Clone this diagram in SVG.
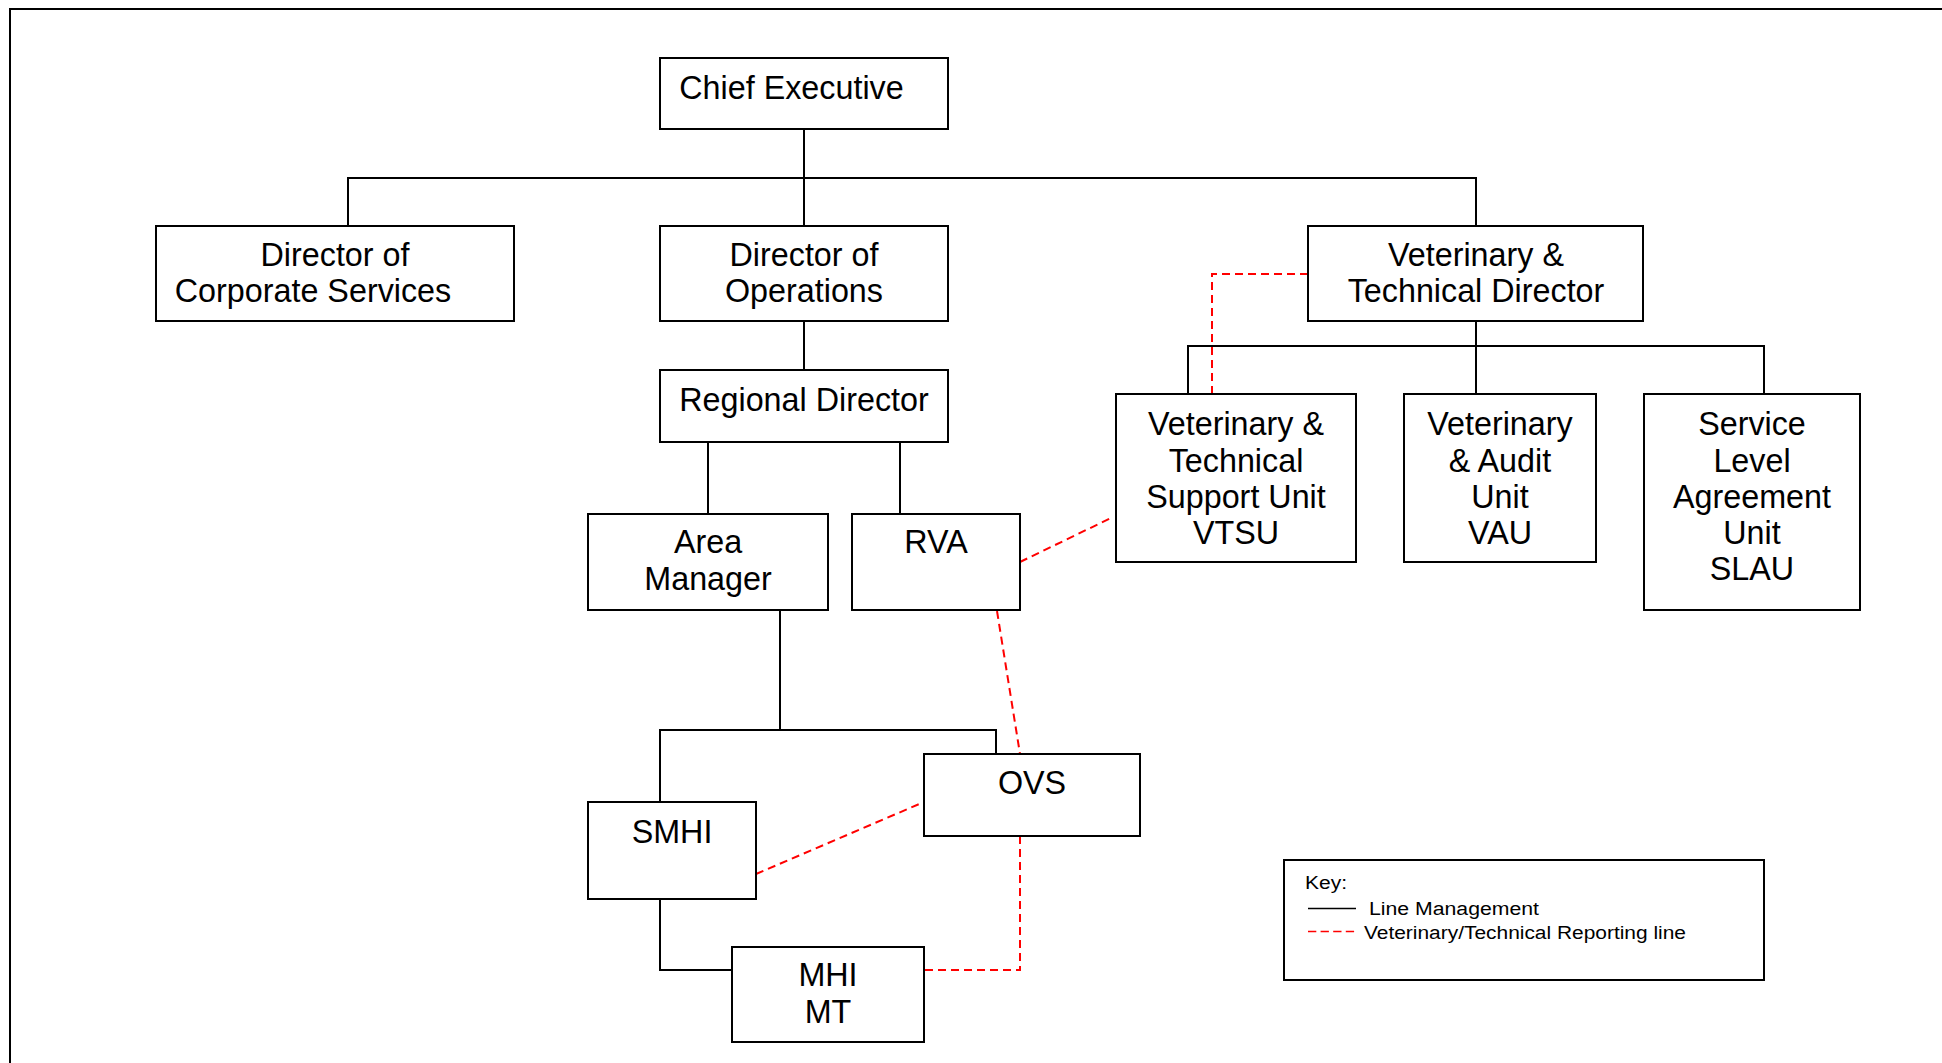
<svg xmlns="http://www.w3.org/2000/svg" width="1942" height="1063" viewBox="0 0 1942 1063">
<style>
.box{fill:#fff;stroke:#000;stroke-width:2}
.t{font-family:"Liberation Sans",Arial,sans-serif;font-size:32.3px;fill:#000;text-anchor:middle}
.k{font-family:"Liberation Sans",Arial,sans-serif;font-size:18px;fill:#000}
.ln{fill:none;stroke:#000;stroke-width:2}
.rd{fill:none;stroke:#f00;stroke-width:2;stroke-dasharray:8,5}
</style>
<rect x="0" y="0" width="1942" height="1063" fill="#fff"/>
<g id="frame">
<path d="M10,1063 V9 H1942" fill="none" stroke="#000" stroke-width="2"/>
</g>
<g id="connectors">
<path class="ln" d="M804,129 V226"/>
<path class="ln" d="M348,226 V178 H1476 V226"/>
<path class="ln" d="M804,321 V370"/>
<path class="ln" d="M708,442 V514"/>
<path class="ln" d="M900,442 V514"/>
<path class="ln" d="M1476,321 V394"/>
<path class="ln" d="M1188,394 V346 H1764 V394"/>
<path class="ln" d="M780,610 V730"/>
<path class="ln" d="M660,802 V730 H996 V754"/>
<path class="ln" d="M660,899 V970 H732"/>
<path class="rd" d="M1308,274 H1212 V394"/>
<path class="rd" d="M1020,562 L1113,517"/>
<path class="rd" d="M997,611 L1020,754"/>
<path class="rd" d="M756,874 L924,802"/>
<path class="rd" d="M1020,836 V970 H924"/>
</g>
<g id="chief-executive">
<rect class="box" x="660" y="58" width="288" height="71"/>
<text class="t" x="791.5" y="98.5">Chief Executive</text>
</g>
<g id="director-corporate">
<rect class="box" x="156" y="226" width="358" height="95"/>
<text class="t" x="335" y="266">Director of</text>
<text class="t" x="313" y="302">Corporate Services</text>
</g>
<g id="director-operations">
<rect class="box" x="660" y="226" width="288" height="95"/>
<text class="t" x="804" y="266">Director of</text>
<text class="t" x="804" y="302">Operations</text>
</g>
<g id="vet-tech-director">
<rect class="box" x="1308" y="226" width="335" height="95"/>
<text class="t" x="1476" y="266">Veterinary &amp;</text>
<text class="t" x="1476" y="302">Technical Director</text>
</g>
<g id="regional-director">
<rect class="box" x="660" y="370" width="288" height="72"/>
<text class="t" x="804" y="410.5">Regional Director</text>
</g>
<g id="area-manager">
<rect class="box" x="588" y="514" width="240" height="96"/>
<text class="t" x="708" y="553">Area</text>
<text class="t" x="708" y="590">Manager</text>
</g>
<g id="rva">
<rect class="box" x="852" y="514" width="168" height="96"/>
<text class="t" x="936" y="553">RVA</text>
</g>
<g id="vtsu">
<rect class="box" x="1116" y="394" width="240" height="168"/>
<text class="t" x="1236" y="435">Veterinary &amp;</text>
<text class="t" x="1236" y="471.5">Technical</text>
<text class="t" x="1236" y="507.5">Support Unit</text>
<text class="t" x="1236" y="544">VTSU</text>
</g>
<g id="vau">
<rect class="box" x="1404" y="394" width="192" height="168"/>
<text class="t" x="1500" y="435">Veterinary</text>
<text class="t" x="1500" y="471.5">&amp; Audit</text>
<text class="t" x="1500" y="507.5">Unit</text>
<text class="t" x="1500" y="544">VAU</text>
</g>
<g id="slau">
<rect class="box" x="1644" y="394" width="216" height="216"/>
<text class="t" x="1752" y="435">Service</text>
<text class="t" x="1752" y="471.5">Level</text>
<text class="t" x="1752" y="507.5">Agreement</text>
<text class="t" x="1752" y="544">Unit</text>
<text class="t" x="1752" y="580">SLAU</text>
</g>
<g id="ovs">
<rect class="box" x="924" y="754" width="216" height="82"/>
<text class="t" x="1032" y="794">OVS</text>
</g>
<g id="smhi">
<rect class="box" x="588" y="802" width="168" height="97"/>
<text class="t" x="672" y="843">SMHI</text>
</g>
<g id="mhi-mt">
<rect class="box" x="732" y="947" width="192" height="95"/>
<text class="t" x="828" y="986">MHI</text>
<text class="t" x="828" y="1022.5">MT</text>
</g>
<g id="key">
<rect class="box" x="1284" y="860" width="480" height="120"/>
<text class="k" x="1305" y="889" textLength="42" lengthAdjust="spacingAndGlyphs">Key:</text>
<line x1="1308" y1="908.5" x2="1356" y2="908.5" stroke="#000" stroke-width="1.5"/>
<text class="k" x="1369" y="915" textLength="170" lengthAdjust="spacingAndGlyphs">Line Management</text>
<line x1="1308" y1="931.5" x2="1356" y2="931.5" stroke="#f00" stroke-width="1.5" stroke-dasharray="8.3,4.3"/>
<text class="k" x="1364" y="938.5" textLength="322" lengthAdjust="spacingAndGlyphs">Veterinary/Technical Reporting line</text>
</g>
</svg>
